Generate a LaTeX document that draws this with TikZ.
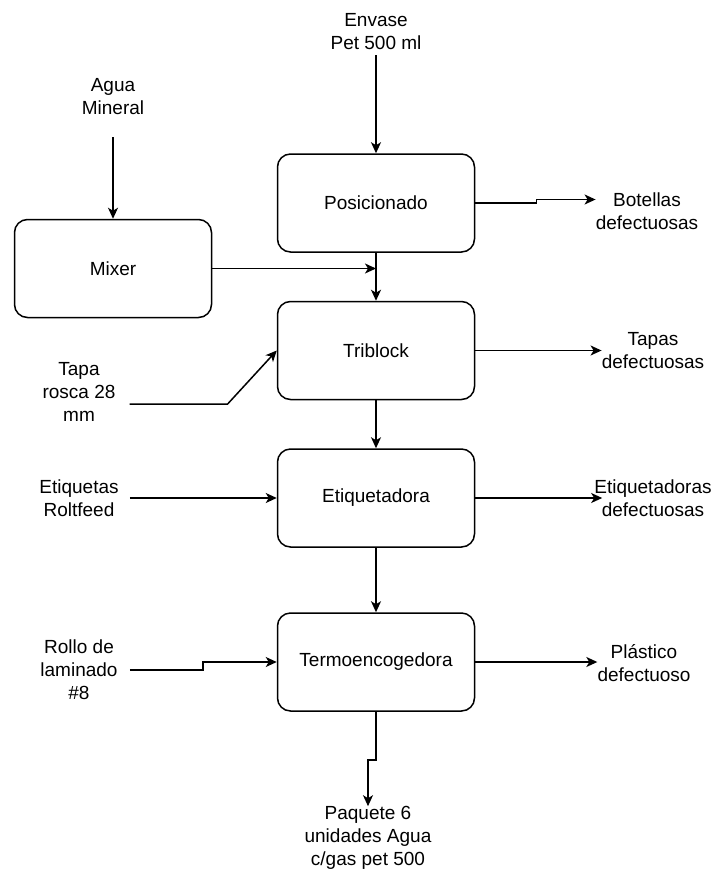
\documentclass[tikz,border=0pt]{standalone}
\usepackage{fontspec}
\setmainfont{Liberation Sans}
\usetikzlibrary{arrows.meta}

\begin{document}
\begin{tikzpicture}[x=1pt,y=-1pt,font=\fontsize{19}{23}\selectfont,
  box/.style={draw,rounded corners=13pt,line width=1.5pt,minimum width=197pt,minimum height=98pt},
  lbl/.style={align=center,inner sep=0pt},
  a/.style={-{Stealth[length=11pt,width=10pt,inset=3pt]},line width=1.5pt}]
\useasboundingbox (0,0) rectangle (715,870);
% --- process boxes ---
\node[box] (pos) at (376,203) {Posicionado};
\node[box] (mixer) at (113,268.5) {Mixer};
\node[box] (tri) at (376,350.5) {Triblock};
\node[box] (etq) at (376,498) {Etiquetadora};
\node[box] (termo) at (376,662) {Termoencogedora};
% --- inputs ---
\node[lbl] (envase) at (376,32) {Envase\\Pet 500 ml};
\node[lbl] (agua) at (113,97) {Agua\\Mineral};
\node[lbl] (tapa) at (79,392) {Tapa\\rosca 28\\mm};
\node[lbl] (etiq) at (79,498) {Etiquetas\\Roltfeed};
\node[lbl] (rollo) at (79,670) {Rollo de\\laminado\\\#8};
% --- outputs ---
\node[lbl] (bot) at (647,211.5) {Botellas\\defectuosas};
\node[lbl] (tapas) at (653,350.5) {Tapas\\defectuosas};
\node[lbl] (etqdef) at (653,498) {Etiquetadoras\\defectuosas};
\node[lbl] (plas) at (644,663.5) {Plástico\\defectuoso};
\node[lbl] (paq) at (368,838) {Paquete 6\\unidades Agua\\c/gas pet 500};
% --- main line ---
\draw[a,shorten <=5pt] (envase.south) -- (pos.north);
\draw[a,shorten <=22pt] (agua.south) -- (mixer.north);
\draw[a] (pos.south) -- (tri.north);
\draw[a] (mixer.east) -- (mixer.east -| pos.south);
\draw[a] (tri.south) -- (etq.north);
\draw[a] (etq.south) -- (termo.north);
\draw[a] (termo.south) -- ++(0,48) -| (paq.north);
% --- side inputs ---
\draw[a] ([xshift=14pt,yshift=-12pt]tapa.east) -- ++(98,0) -- (tri.west);
\draw[a] ([xshift=11pt]etiq.east) -- (etq.west);
\draw[a] ([xshift=12pt]rollo.east) -- ++(73,0) |- (termo.west);
% --- rejects ---
\draw[a] (pos.east) -- ++(61,0) |- ([yshift=12pt]bot.west);
\draw[a] (tri.east) -- (tapas.west);
\draw[a,shorten >=-8pt] (etq.east) -- (etqdef.west |- etq.east);
\draw[a] (termo.east) -- (plas.west |- termo.east);
\end{tikzpicture}
\end{document}
